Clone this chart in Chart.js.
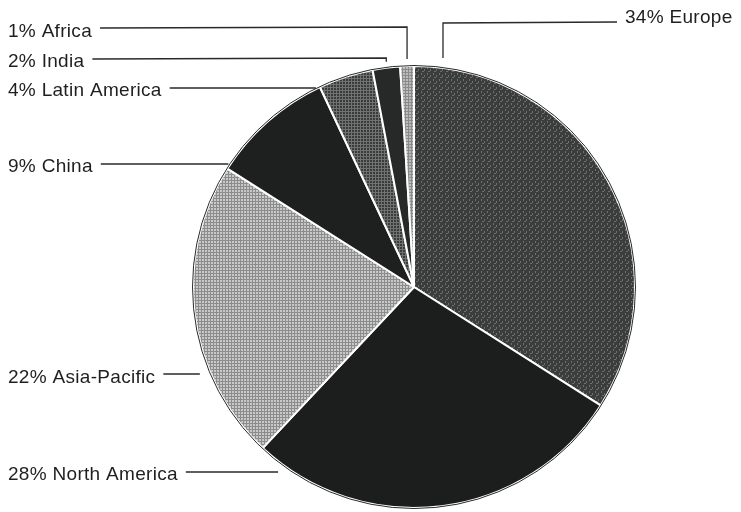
<!DOCTYPE html>
<html>
<head>
<meta charset="utf-8">
<script src="https://cdn.jsdelivr.net/npm/chart.js@4/dist/chart.umd.min.js"></script>
<style>
  html, body { margin: 0; padding: 0; background: #fff; }
  #wrap { width: 741px; height: 512px; position: relative; }
</style>
</head>
<body>
<div id="wrap"><canvas id="pie"></canvas></div>
<script>
// ---- data ----
const regions = ['Europe', 'North America', 'Asia-Pacific', 'China', 'Latin America', 'India', 'Africa'];
const shares  = [34, 28, 22, 9, 4, 2, 1];

// ---- label placement (layout only) ----
// text y, leader line y, how the leader ends: 'edge' = stop before pie edge, 'drop' = drop down to arc top
const labelLayout = {
    'Europe':        { side: 'right', x: 625, textY: 18,  lineY: 23,  end: 'drop', dropX: 29, gap: 10 },
    'Africa':        { side: 'left',  x: 8,   textY: 32,  lineY: 27,  end: 'drop', gap: 7 },
    'India':         { side: 'left',  x: 8,   textY: 62,  lineY: 58,  end: 'drop', gap: 6 },
    'Latin America': { side: 'left',  x: 8,   textY: 91,  lineY: 88,  end: 'edge', gap: 2 },
    'China':         { side: 'left',  x: 8,   textY: 167, lineY: 164, end: 'edge', gap: 2 },
    'Asia-Pacific':  { side: 'left',  x: 8,   textY: 378, lineY: 374, end: 'edge', gap: 11 },
    'North America': { side: 'left',  x: 8,   textY: 475, lineY: 472, end: 'edge', gap: 15 }
};

// ---- scanned-print looking fills ----
function makePattern(base, mark, kind) {
    const c = document.createElement('canvas');
    c.width = 6; c.height = 6;
    const g = c.getContext('2d');
    g.fillStyle = base;
    g.fillRect(0, 0, 6, 6);
    g.fillStyle = mark;
    if (kind === 'grid') {
        g.fillRect(0, 0, 6, 1);
        g.fillRect(0, 3, 6, 1);
        g.fillRect(0, 0, 1, 6);
        g.fillRect(3, 0, 1, 6);
    } else if (kind === 'speck') {
        g.fillRect(1, 1, 1, 2);
        g.fillRect(4, 3, 1, 2);
        g.fillRect(2, 5, 2, 1);
    }
    return g.createPattern(c, 'repeat');
}

const fills = [
    makePattern('#3b3d3c', '#6e706f', 'speck'),   // Europe
    '#1c1e1d',                                    // North America
    makePattern('#c9c9c9', '#8c8c8c', 'grid'),    // Asia-Pacific
    '#1e201f',                                    // China
    makePattern('#3a3c3b', '#707271', 'grid'),    // Latin America
    '#272928',                                    // India
    makePattern('#bdbdbd', '#8a8a8a', 'grid')     // Africa
];

// leader lines + labels drawn from the arc geometry
const leaderLabels = {
    id: 'leaderLabels',
    afterDatasetsDraw(chart) {
        const ctx = chart.ctx;
        const arcs = chart.getDatasetMeta(0).data;
        const cx = arcs[0].x, cy = arcs[0].y, r = arcs[0].outerRadius;

        // thin dark rim round the pie
        ctx.save();
        ctx.strokeStyle = '#2a2a2a';
        ctx.lineWidth = 1;
        ctx.beginPath();
        ctx.arc(cx, cy, r + 0.5, 0, Math.PI * 2);
        ctx.stroke();

        ctx.font = '19px "Liberation Sans", Arial, sans-serif';
        ctx.letterSpacing = '0.3px';
        ctx.textBaseline = 'middle';
        ctx.fillStyle = '#1f1f1f';
        ctx.strokeStyle = '#2a2a2a';
        ctx.lineWidth = 1.3;

        regions.forEach((name, i) => {
            const L = labelLayout[name];
            const text = shares[i] + '% ' + name;
            const w = ctx.measureText(text).width;
            const a = arcs[i];
            const mid = (a.startAngle + a.endAngle) / 2;

            ctx.fillText(text, L.x, L.textY);
            ctx.beginPath();
            if (L.side === 'left') {
                const x0 = L.x + w + 8;
                if (L.end === 'drop') {
                    const ax = cx + r * Math.cos(mid);
                    const ay = cy + r * Math.sin(mid);
                    ctx.moveTo(x0, L.lineY + 1);
                    ctx.lineTo(ax, L.lineY);
                    ctx.lineTo(ax, ay - L.gap);
                } else {
                    const dy = L.lineY - cy;
                    const ex = cx - Math.sqrt(Math.max(r * r - dy * dy, 0)) - L.gap;
                    ctx.moveTo(x0, L.lineY);
                    ctx.lineTo(ex, L.lineY);
                }
            } else {
                const x0 = L.x - 8;
                const dx = L.dropX;
                const ey = cy - Math.sqrt(r * r - dx * dx) - L.gap;
                ctx.moveTo(x0, L.lineY - 1);
                ctx.lineTo(cx + dx, L.lineY);
                ctx.lineTo(cx + dx, ey);
            }
            ctx.stroke();
        });
        ctx.restore();
    }
};

new Chart(document.getElementById('pie'), {
    type: 'pie',
    data: {
        labels: regions,
        datasets: [{
            data: shares,
            backgroundColor: fills,
            borderColor: '#ffffff',
            borderWidth: 2
        }]
    },
    options: {
        responsive: true,
        maintainAspectRatio: false,
        animation: false,
        layout: { padding: { left: 192, right: 105, top: 65, bottom: 3 } },
        plugins: {
            legend: { display: false },
            tooltip: { enabled: false },
            title: { display: false }
        }
    },
    plugins: [leaderLabels]
});
</script>
</body>
</html>
